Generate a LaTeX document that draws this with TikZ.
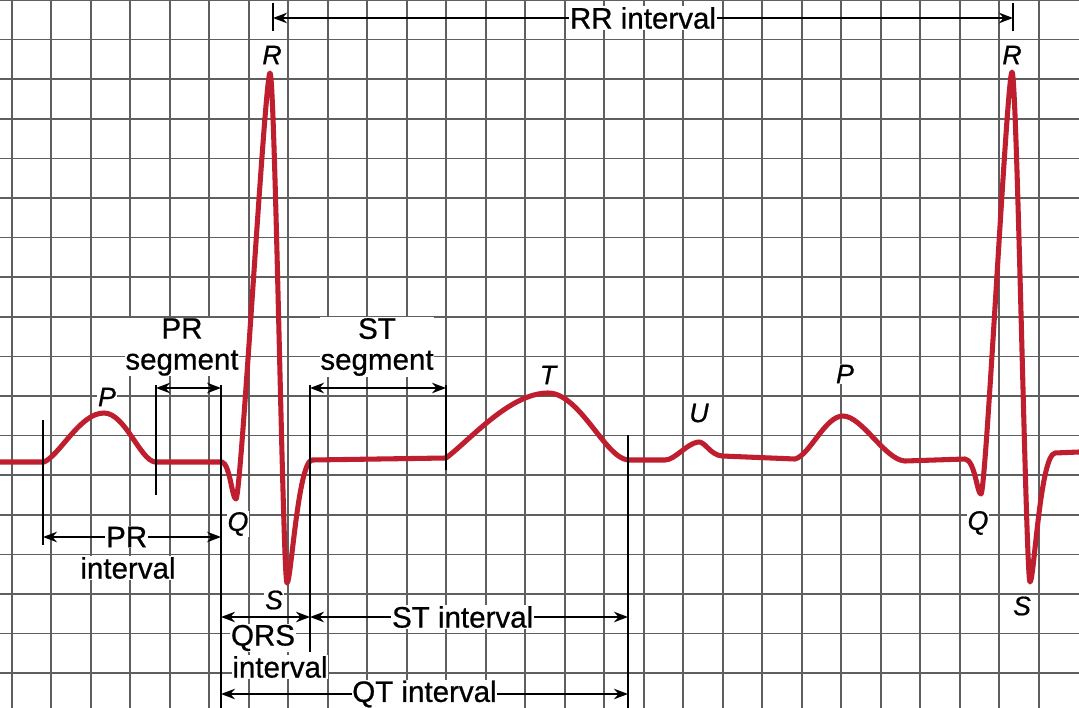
\documentclass[tikz,border=0pt]{standalone}
\usepackage{fontspec}
\setmainfont{Liberation Sans}
\newfontfamily\lblfont{Liberation Sans}[FakeBold=0.7]
\usetikzlibrary{arrows.meta,positioning}
\definecolor{ecgred}{RGB}{190,30,45}
\definecolor{gridgray}{RGB}{95,95,95}
\tikzset{
  gridline/.style={gridgray,line width=1.2pt},
  trace/.style={ecgred,line width=3.6pt,line join=round,line cap=round},
  marker/.style={black,line width=1.9pt},
  dim/.style={black,line width=1.3pt,{Stealth[length=10pt,width=7.5pt]}-{Stealth[length=10pt,width=7.5pt]}},
  lbl/.style={fill=white,inner sep=0.5pt,font=\lblfont\fontsize{21}{22}\selectfont},
  wave/.style={fill=white,inner sep=0.5pt,font=\lblfont\fontsize{19}{20}\selectfont\itshape},
}
\begin{document}
\begin{tikzpicture}[x=0.025cm,y=-0.025cm]
\useasboundingbox (0,0) rectangle (1079,708);
\fill[white] (0,0) rectangle (1079,708);
\foreach \i in {0,...,26} {
\draw[gridline] ({11.7+39.5*\i},0) -- ({11.7+39.5*\i},708);
};
\foreach \j in {0,...,17} {
\draw[gridline] (0,{39.6*\j}) -- (1079,{39.6*\j});
};

\draw[trace] (0,462) -- (44,462)
  .. controls (60,455) and (80,413) .. (104,413)
  .. controls (125,413) and (140,460) .. (155,462) -- (222,462)
  .. controls (230,464) and (232,499) .. (236,499)
  .. controls (241,499) and (265,73) .. (270,73)
  .. controls (275,73) and (283,583) .. (287,583)
  .. controls (291,583) and (298,462) .. (312,460) -- (446,458)
  .. controls (470,440) and (510,393) .. (548,393)
  .. controls (580,393) and (605,458) .. (628,460) -- (665,460)
  .. controls (675,460) and (686,444) .. (698,442)
  .. controls (705,441) and (710,455) .. (722,456) -- (795,459)
  .. controls (810,455) and (825,416) .. (843,416)
  .. controls (862,416) and (885,460) .. (905,461) -- (965,459)
  .. controls (975,460) and (977,494) .. (981,494)
  .. controls (986,494) and (1007,72) .. (1012,72)
  .. controls (1017,72) and (1026,582) .. (1030,582)
  .. controls (1034,582) and (1040,455) .. (1055,453) -- (1079,452);

\coordinate (pstart top) at (43,420);
\coordinate (pstart bot) at (43,545);
\coordinate (pend top) at (156,385);
\coordinate (pend bot) at (156,495);
\coordinate (qon top) at (221,385);
\coordinate (qon bot) at (221,708);
\coordinate (jpt top) at (310,385);
\coordinate (jpt bot) at (310,652);
\coordinate (ton top) at (446,385);
\coordinate (ton bot) at (446,470);
\coordinate (tend top) at (628,435);
\coordinate (tend bot) at (628,708);
\coordinate (rone top) at (273,3);
\coordinate (rone bot) at (273,31);
\coordinate (rtwo top) at (1013,3);
\coordinate (rtwo bot) at (1013,31);

\draw[marker] (pstart top) -- (pstart bot);
\draw[marker] (pend top) -- (pend bot);
\draw[marker] (qon top) -- (qon bot);
\draw[marker] (jpt top) -- (jpt bot);
\draw[marker] (ton top) -- (ton bot);
\draw[marker] (tend top) -- (tend bot);
\draw[marker] (rone top) -- (rone bot);
\draw[marker] (rtwo top) -- (rtwo bot);

\coordinate (rr left) at (273,18);
\coordinate (rr right) at (1013,18);
\coordinate (ps left) at (156,388);
\coordinate (ps right) at (221,388);
\coordinate (ts left) at (310,388);
\coordinate (ts right) at (446,388);
\coordinate (pri left) at (43,537);
\coordinate (pri right) at (221,537);
\coordinate (qrs left) at (221,617);
\coordinate (qrs right) at (310,617);
\coordinate (sti left) at (310,617);
\coordinate (sti right) at (628,617);
\coordinate (qti left) at (221,694);
\coordinate (qti right) at (628,694);

\draw[dim] (rr left) -- (rr right) node[lbl,midway] (rrlab) {RR interval};
\draw[dim] (ps left) -- (ps right);
\draw[dim] (ts left) -- (ts right);
\draw[dim] (pri left) -- (pri right) node[lbl,pos=0.47] (prlab) {PR};
\draw[dim] (qrs left) -- (qrs right);
\draw[dim] (sti left) -- (sti right) node[lbl,pos=0.48] (stlab) {ST interval};
\draw[dim] (qti left) -- (qti right) node[lbl,midway] (qtlab) {QT interval};

\node[lbl,align=center] (pslab) at (182,347) {PR\\segment};
\node[lbl,align=center] (tslab) at (377,347) {ST\\segment};
\node[lbl] (printlab) at (128,568) {interval};
\node[lbl] (qrslab) at (263,638) {QRS};
\node[lbl] (qrsint) at (280,667) {interval};

\node[wave] (r one) at (272,55) {R};
\node[wave] (r two) at (1012,55) {R};
\node[wave] (p one) at (107,397) {P};
\node[wave] (q one) at (238,524) {Q};
\node[wave] (s one) at (274,600) {S};
\node[wave] (t wave) at (548,375) {T};
\node[wave] (u wave) at (699,413) {U};
\node[wave] (p two) at (845,374) {P};
\node[wave] (q two) at (978,523) {Q};
\node[wave] (s two) at (1022,606) {S};
\end{tikzpicture}
\end{document}
